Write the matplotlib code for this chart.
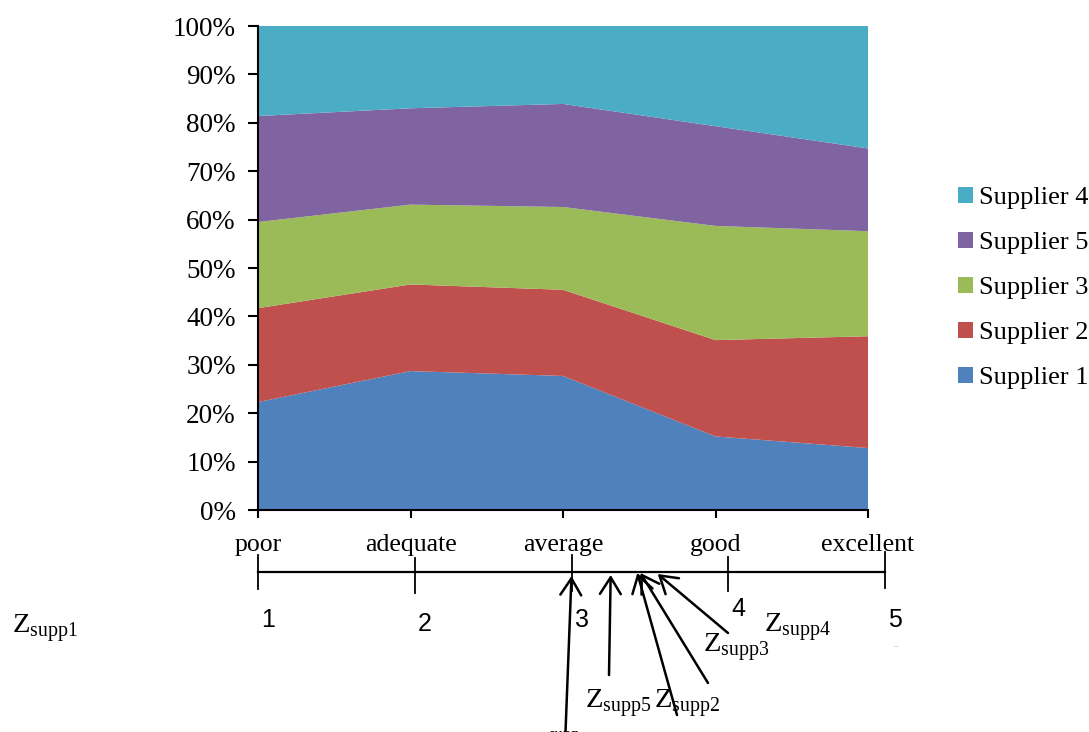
import numpy as np
import matplotlib
matplotlib.use("Agg")
import matplotlib.pyplot as plt
from matplotlib.patches import Patch

plt.rcParams['font.family'] = ['Liberation Serif', 'DejaVu Serif']
plt.rcParams['mathtext.fontset'] = 'custom'
plt.rcParams['mathtext.rm'] = 'Liberation Serif'

# percentage share of each supplier per rating
ratings = ['poor', 'adequate', 'average', 'good', 'excellent']
supplier1 = [22.3, 28.7, 27.7, 15.2, 12.8]
supplier2 = [19.4, 17.9, 17.8, 19.9, 23.1]
supplier3 = [17.8, 16.5, 17.1, 23.6, 21.7]
supplier5 = [21.9, 19.9, 21.3, 20.6, 17.1]
supplier4 = [18.6, 17.0, 16.1, 20.7, 25.3]

# numeric scale underneath
scale_ticks = [1, 2, 3, 4, 5]
z_labels = ['Z$_{\\mathrm{supp1}}$', 'Z$_{\\mathrm{supp5}}$', 'Z$_{\\mathrm{supp2}}$',
            'Z$_{\\mathrm{supp3}}$', 'Z$_{\\mathrm{supp4}}$']
z_arrow_vals = [3.0, 3.25, 3.42, 3.44, 3.55]

colors = {'Supplier 1': '#4F81BD', 'Supplier 2': '#C0504D', 'Supplier 3': '#9BBB59',
          'Supplier 5': '#8064A2', 'Supplier 4': '#4BACC6'}

W, H = 1089, 732
fig = plt.figure(figsize=(W / 100, H / 100), dpi=100)

# main 100% stacked area chart
ax = fig.add_axes([258 / W, 1 - 510 / H, (868 - 258) / W, (510 - 26) / H])
x = np.arange(len(ratings))
series = [supplier1, supplier2, supplier3, supplier5, supplier4]
names = ['Supplier 1', 'Supplier 2', 'Supplier 3', 'Supplier 5', 'Supplier 4']
ax.stackplot(x, *series, colors=[colors[n] for n in names], linewidth=0)
ax.set_xlim(0, len(ratings) - 1)
ax.set_ylim(0, 100)
ax.set_yticks(np.arange(0, 101, 10))
ax.set_yticklabels([f'{v}%' for v in range(0, 101, 10)], fontsize=19.5)
ax.set_xticks(x)
ax.set_xticklabels(ratings, fontsize=18.5)
ax.tick_params(axis='y', length=7, width=1.5, pad=9)
ax.tick_params(axis='x', length=6, width=1.5, pad=11)
for s in ['top', 'right']:
    ax.spines[s].set_visible(False)
for s in ['left', 'bottom']:
    ax.spines[s].set_linewidth(1.5)

handles = [Patch(facecolor=colors[n], label=n) for n in names[::-1]]
fig.legend(handles=handles, loc='center left', bbox_to_anchor=(958 / W, 1 - 288 / H),
           frameon=False, fontsize=19, handlelength=0.55, handleheight=0.55,
           handletextpad=0.25, labelspacing=0.86, borderpad=0, borderaxespad=0)

# annotation layer in pixel coordinates
ov = fig.add_axes([0, 0, 1, 1])
ov.set_xlim(0, W)
ov.set_ylim(H, 0)
ov.axis('off')
ov.patch.set_visible(False)


def sx(v):
    return 258 + (v - 1) * 156.75


line_y = 572
ov.plot([sx(1), sx(5)], [line_y, line_y], color='black', lw=1.6)
tick_top = [555, 558, 555, 557, 552]
tick_bot = [589, 593, 591, 591, 588]
num_y = [620, 624, 620, 609, 620]
for i, t in enumerate(scale_ticks):
    ov.plot([sx(t), sx(t)], [tick_top[i], tick_bot[i]], color='black', lw=1.3)
    ov.text(sx(t) + 10, num_y[i], str(t), fontsize=18, family='Liberation Sans',
            ha='center', va='center')
ov.text(sx(5) + 10, 646, '–', fontsize=6, color='#aaaaaa', ha='center', va='center')

# arrows from labels towards scale
tails = [(565, 745), (609, 675), (677, 715), (708, 683), (728, 633)]
tip_y = [576, 575, 573, 573, 574]
for v, (tx, ty), yy in zip(z_arrow_vals, tails, tip_y):
    ov.annotate('', xy=(sx(v), yy), xytext=(tx, ty),
                arrowprops=dict(arrowstyle='->, head_length=0.4, head_width=0.25',
                                lw=1.8, color='black', mutation_scale=30,
                                shrinkA=0, shrinkB=0),
                annotation_clip=False)

# Z labels
label_pos = [(12, 633), (585, 708), (654, 708), (703, 652), (764, 632)]
for lab, (lx, ly) in zip(z_labels, label_pos):
    ov.text(lx, ly, lab, fontsize=20.5, ha='left', va='baseline')
ov.text(548, 727, 'supp', fontsize=12, ha='left', va='top')

fig.savefig('out.png', dpi=100)
